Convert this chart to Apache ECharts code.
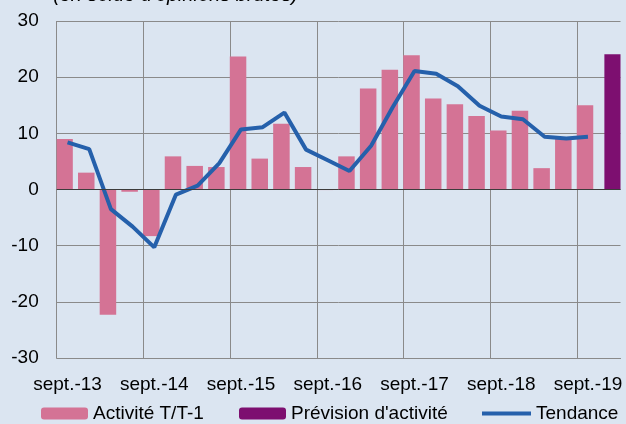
<!DOCTYPE html>
<html>
<head>
<meta charset="utf-8">
<script src="https://cdn.jsdelivr.net/npm/echarts@6/dist/echarts.min.js"></script>
<style>
html,body{margin:0;padding:0;background:#dbe5f1;}
#chart{width:626px;height:424px;}
</style>
</head>
<body>
<div id="chart"></div>
<script>
const categories = [
  'sept.-13','déc.-13','mars-14','juin-14',
  'sept.-14','déc.-14','mars-15','juin-15',
  'sept.-15','déc.-15','mars-16','juin-16',
  'sept.-16','déc.-16','mars-17','juin-17',
  'sept.-17','déc.-17','mars-18','juin-18',
  'sept.-18','déc.-18','mars-19','juin-19',
  'sept.-19','déc.-19'
];
const activite = [9.0, 3.0, -22.3, -0.4, -8.3, 5.9, 4.2, 4.0, 23.7, 5.5, 11.7, 4.0, -0.1, 5.9, 18.0, 21.3, 23.9, 16.2, 15.2, 13.1, 10.5, 14.0, 3.8, 9.0, 15.0, null];
const prevision = [null, null, null, null, null, null, null, null, null, null, null, null, null, null, null, null, null, null, null, null, null, null, null, null, null, 24.1];
const tendance = [8.4, 7.2, -3.5, -6.6, -10.3, -0.9, 0.7, 4.7, 10.7, 11.1, 13.7, 7.1, 5.2, 3.3, 7.8, 14.7, 21.1, 20.6, 18.4, 14.9, 13.0, 12.5, 9.4, 9.1, 9.4, null];
const yTicks = { min: -30, max: 30, interval: 10 };
const subtitle = "(en solde d'opinions brutes)";

const FONT = '"Liberation Sans", Arial, sans-serif';
const legendText = { fontSize: 19, color: '#000', fontFamily: FONT };
const chart = echarts.init(document.getElementById('chart'), null, { renderer: 'canvas' });
chart.setOption({
  backgroundColor: '#dbe5f1',
  animation: false,
  textStyle: { fontFamily: FONT },
  graphic: [{
    type: 'text', left: 53, top: -15,
    style: { text: subtitle, font: 'italic 20px ' + FONT, fill: '#000' }
  }],
  legend: [
    { data: ['Activité T/T-1'], left: 41, top: 404, padding: 0, itemWidth: 47, itemHeight: 12, itemGap: 0,
      textStyle: legendText },
    { data: ["Prévision d'activité"], left: 239, top: 404, padding: 0, itemWidth: 47, itemHeight: 12, itemGap: 0,
      textStyle: legendText },
    { data: [{ name: 'Tendance', icon: 'rect' }], left: 482, top: 404, padding: 0, itemWidth: 49, itemHeight: 4, itemGap: 0,
      textStyle: legendText }
  ],
  grid: { left: 56.7, right: 5.5, top: 21, bottom: 66, containLabel: false },
  xAxis: {
    type: 'category',
    data: categories,
    boundaryGap: true,
    axisLine: { show: true, onZero: false, lineStyle: { color: '#8a8a8a', width: 1 } },
    axisTick: { show: false, interval: 3 },
    axisLabel: { interval: 3, fontSize: 19, color: '#000', margin: 17, fontFamily: FONT },
    splitLine: { show: true, interval: 3, showMaxLine: false, lineStyle: { color: '#8a8a8a', width: 1 } }
  },
  yAxis: {
    type: 'value',
    min: yTicks.min, max: yTicks.max, interval: yTicks.interval,
    axisLine: { show: false },
    axisTick: { show: false },
    axisLabel: { fontSize: 19, color: '#000', margin: 18, fontFamily: FONT },
    splitLine: { show: true, lineStyle: { color: '#8a8a8a', width: 1 } }
  },
  series: [
    {
      name: 'Activité T/T-1', type: 'bar', data: activite,
      barWidth: 16.5, barGap: '-64%',
      itemStyle: { color: '#d47395' },
      markLine: {
        silent: true, symbol: ['none', 'none'], label: { show: false },
        lineStyle: { color: '#3c3c3c', width: 1, type: 'solid' },
        data: [{ yAxis: 0 }]
      },
      z: 2
    },
    {
      name: "Prévision d'activité", type: 'bar', data: prevision,
      barWidth: 16.5, barGap: '-64%',
      itemStyle: { color: '#7d0f70' },
      z: 2
    },
    {
      name: 'Tendance', type: 'line', data: tendance,
      symbol: 'none', showSymbol: false,
      lineStyle: { color: '#2560ab', width: 4 },
      itemStyle: { color: '#2560ab' },
      z: 4
    }
  ]
});
</script>
</body>
</html>
